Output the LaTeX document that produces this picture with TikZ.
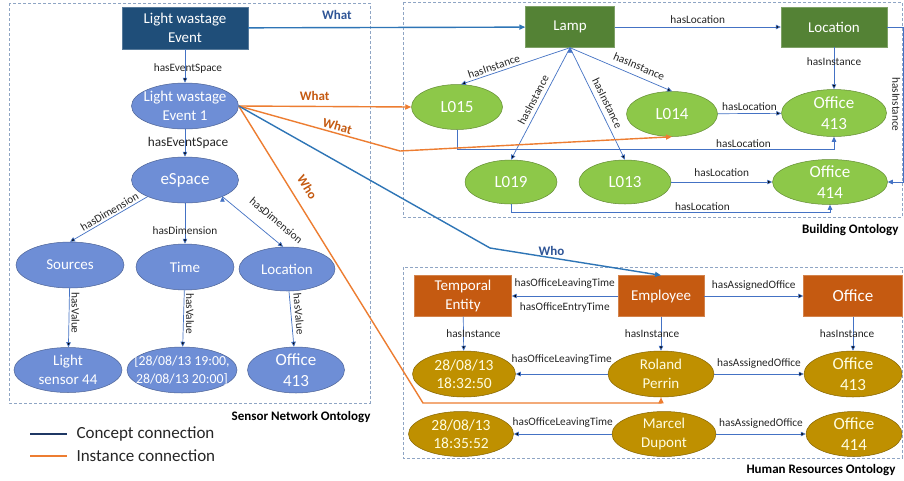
\documentclass[tikz,border=0pt]{standalone}
\usepackage{fontspec}
\setmainfont{Carlito}
\usetikzlibrary{arrows.meta}
\usetikzlibrary{shapes.geometric}
\usetikzlibrary{backgrounds}

\definecolor{evblue}{HTML}{1F4E79}
\definecolor{snblue}{HTML}{6E8ED6}
\definecolor{lampgreen}{HTML}{548235}
\definecolor{instgreen}{HTML}{8DC849}
\definecolor{hrorange}{HTML}{C55A11}
\definecolor{hrgold}{HTML}{BF9000}
\definecolor{edgeblue}{HTML}{4472C4}
\definecolor{whatblue}{HTML}{2E75B6}
\definecolor{whatorange}{HTML}{ED7D31}
\definecolor{navy}{HTML}{2F5597}
\definecolor{legnavy}{HTML}{1F3864}
\definecolor{boxgray}{HTML}{8FA5C4}

\begin{document}
\begin{tikzpicture}[x=1pt,y=-1pt,
  every node/.style={font=\fontsize{11.3}{13}\selectfont,text=black!85},
  cls/.style={rectangle,fill=#1,draw=#1!75!white,text=white,align=center,inner sep=0pt,font=\fontsize{15}{18.5}\selectfont},
  ins/.style={ellipse,fill=#1,draw=#1!70!black,line width=0.5pt,text=white,align=center,inner sep=-20pt,font=\fontsize{15}{19}\selectfont},
  big/.style={font=\fontsize{17}{21}\selectfont},
  rel/.style={draw=edgeblue,line width=0.7pt,-{Triangle[length=5pt,width=4.5pt]}},
  lbl/.style={inner sep=1pt},
  what/.style={line width=1.4pt,-{Triangle[length=6pt,width=5pt]}},
  whatlbl/.style={inner sep=1pt,font=\fontsize{13}{15}\selectfont\bfseries},
  onto/.style={draw=boxgray,dash pattern=on 3pt off 2pt,line width=0.6pt},
  ontolbl/.style={anchor=east,font=\fontsize{13}{15}\selectfont\bfseries,text=black}]

\fill[white] (0,0) rectangle (904,480);
\useasboundingbox (0,0) rectangle (904,480);

% ontology frames
\draw[onto] (9,3) rectangle (370,403);
\draw[onto] (403,2) rectangle (902,217);
\draw[onto] (403,267) rectangle (902,458);
\node[ontolbl] (snlbl) at (374,417) {Sensor Network Ontology};
\node[ontolbl] (bolbl) at (902,230) {Building Ontology};
\node[ontolbl] (hrlbl) at (899,470) {Human Resources Ontology};

% sensor network ontology
\node[cls=evblue,minimum width=126pt,minimum height=42pt] (ev) at (185,28) {Light wastage\\Event};
\node[ins=snblue,minimum width=107pt,minimum height=46pt] (ev1) at (185,106) {Light wastage\\Event 1};
\node[ins=snblue,big,minimum width=107pt,minimum height=46pt] (esp) at (185,180) {eSpace};
\node[ins=snblue,minimum width=108pt,minimum height=46pt] (src) at (70,265) {Sources};
\node[ins=snblue,minimum width=98pt,minimum height=46pt] (tim) at (185,267) {Time};
\node[ins=snblue,minimum width=96pt,minimum height=44pt] (loc) at (287,269) {Location};
\node[ins=snblue,minimum width=108pt,minimum height=45pt] (sen) at (68,370) {Light\\sensor 44};
\node[ins=snblue,font=\fontsize{13.8}{18}\selectfont,minimum width=110pt,minimum height=46pt] (per) at (182,370) {[28/08/13 19:00,\\28/08/13 20:00]};
\node[ins=snblue,big,minimum width=97pt,minimum height=46pt] (so413) at (296,370) {Office\\413};

\path[rel] (ev) edge node[lbl,xshift=3pt,pos=0.58] {hasEventSpace} (ev1)
           (ev1) edge node[lbl,xshift=3pt,font=\fontsize{13.3}{15}\selectfont] {hasEventSpace} (esp)
           (esp.204) edge node[lbl,sloped,anchor=south,outer ysep=1.2pt,pos=0.45] {hasDimension} (src.north)
           (esp) edge node[lbl,pos=0.68] {hasDimension} (tim)
           (esp.336) edge node[lbl,sloped,anchor=south,outer ysep=11pt,pos=0.72] {hasDimension} (loc.100)
           (src) edge node[lbl,rotate=-90,anchor=south,outer ysep=1.5pt,pos=0.42] {hasValue} (sen)
           (tim) edge node[lbl,rotate=-90,anchor=south,outer ysep=1.5pt,pos=0.42] {hasValue} (per)
           (loc) edge node[lbl,sloped,anchor=south,outer ysep=3pt,pos=0.42] {hasValue} (so413);

% building ontology
\node[cls=lampgreen,minimum width=89pt,minimum height=41pt] (lamp) at (570,27) {Lamp};
\node[cls=lampgreen,minimum width=106pt,minimum height=40pt] (locc) at (834,27) {Location};
\node[ins=instgreen,big,minimum width=91pt,minimum height=45pt] (l015) at (457,107) {L015};
\node[ins=instgreen,big,minimum width=91pt,minimum height=45pt] (l014) at (672,114) {L014};
\node[ins=instgreen,big,minimum width=105pt,minimum height=47pt] (bo413) at (834,113) {Office\\413};
\node[ins=instgreen,big,minimum width=92pt,minimum height=44pt] (l019) at (511,182) {L019};
\node[ins=instgreen,big,minimum width=92pt,minimum height=44pt] (l013) at (625,182) {L013};
\node[ins=instgreen,big,minimum width=115pt,minimum height=45pt] (bo414) at (830,182) {Office\\414};

\path[rel] (lamp) edge node[lbl,above=2pt] {hasLocation} (locc)
           (lamp.south) edge node[lbl,sloped,anchor=south,outer ysep=1.4pt,pos=0.68] {hasInstance} (l015.80)
           (lamp.south) edge node[lbl,sloped,anchor=south,outer ysep=3.2pt,pos=0.5] {hasInstance} (l019.north)
           (lamp.south) edge node[lbl,sloped,anchor=south,outer ysep=4.2pt,pos=0.53] {hasInstance} (l013.north)
           (lamp.south) edge node[lbl,sloped,anchor=south,outer ysep=5pt,pos=0.64] {hasInstance} (l014.north)
           (l014) edge node[lbl,above=2pt] {hasLocation} (bo413)
           (l013) edge node[lbl,above=4pt] {hasLocation} (bo414)
           (locc) edge node[lbl,pos=0.35] {hasInstance} (bo413);
\draw[rel] (l015.south) -- ++(0,20) -| node[lbl,above=1pt,pos=0.38] {hasLocation} (bo413.south);
\draw[rel] (l019.south) -- ++(0,8) -| node[lbl,above=0pt,pos=0.3] {hasLocation} (bo414.south);
\draw[rel] (locc.east) -- ++(16,0) |- node[lbl,rotate=-90,anchor=north,outer ysep=2pt,pos=0.25] {hasInstance} (bo414.east);

% human resources ontology
\node[cls=hrorange,minimum width=97pt,minimum height=41pt] (temp) at (463,296) {Temporal\\Entity};
\node[cls=hrorange,minimum width=86pt,minimum height=41pt] (emp) at (661,296) {Employee};
\node[cls=hrorange,big,minimum width=99pt,minimum height=41pt] (off) at (853,296) {Office};
\node[ins=hrgold,text=white!88!yellow,font=\fontsize{15.5}{18.5}\selectfont,minimum width=103pt,minimum height=46pt] (t1) at (464,374) {28/08/13\\18:32:50};
\node[ins=hrgold,text=white!88!yellow,minimum width=106pt,minimum height=46pt] (rp) at (661,374) {Roland\\Perrin};
\node[ins=hrgold,text=white!88!yellow,big,minimum width=98pt,minimum height=46pt] (ho413) at (853,374) {Office\\413};
\node[ins=hrgold,text=white!88!yellow,font=\fontsize{15.5}{18.5}\selectfont,minimum width=105pt,minimum height=45pt] (t2) at (461,434) {28/08/13\\18:35:52};
\node[ins=hrgold,text=white!88!yellow,minimum width=104pt,minimum height=45pt] (md) at (664,434) {Marcel\\Dupont};
\node[ins=hrgold,text=white!88!yellow,big,minimum width=96pt,minimum height=45pt] (ho414) at (854,434) {Office\\414};

\path[rel] (emp) edge node[lbl,above=6pt] {hasOfficeLeavingTime} node[lbl,below=5pt] {hasOfficeEntryTime} (temp)
           (emp) edge node[lbl,above=4pt] {hasAssignedOffice} (off)
           (temp) edge node[lbl,xshift=10pt] {hasInstance} (t1)
           (emp) edge node[lbl,xshift=-9pt] {hasInstance} (rp)
           (off) edge node[lbl,xshift=-6pt] {hasInstance} (ho413)
           (rp) edge node[lbl,above=8pt] {hasOfficeLeavingTime} (t1)
           (rp) edge node[lbl,above=4pt] {hasAssignedOffice} (ho413)
           (md) edge node[lbl,above=5pt] {hasOfficeLeavingTime} (t2)
           (md) edge node[lbl,above=4pt] {hasAssignedOffice} (ho414);
\begin{pgfonlayer}{background}
\path[rel] (temp.south) edge (t2.155)
           (emp.south) edge (md.155)
           (off.south) edge (ho414.152);
\end{pgfonlayer}

% links between the ontologies
\coordinate (whatbend) at (400,151);
\coordinate (whobend) at (490,248);
\coordinate (whocorner) at (423,403);
\draw[what,whatblue] (ev) -- node[whatlbl,text=navy,above=6.5pt,pos=0.32] {What} (lamp);
\draw[what,whatorange] (ev1.east) -- node[whatlbl,text=hrorange,above=4.5pt,pos=0.44] {What} (l015.west);
\draw[what,whatorange] (ev1.east) -- node[whatlbl,text=hrorange,sloped,anchor=south,outer ysep=1.5pt,pos=0.6] {What} (whatbend) -- (l014.south);
\draw[what,whatorange] (ev1.east) -- node[whatlbl,text=hrorange,sloped,anchor=south,outer ysep=10pt,pos=0.3] {Who} (whocorner) -| (rp.south);
\draw[what,whatblue] (ev1.east) -- (whobend) -- node[whatlbl,text=navy,above=0.5pt,pos=0.36] {Who} (emp.north);

% legend
\coordinate (legA1) at (30,434);
\coordinate (legA2) at (67,434);
\coordinate (legB1) at (30,456);
\coordinate (legB2) at (67,456);
\draw[legnavy,line width=1.4pt] (legA1) -- (legA2);
\draw[whatorange,line width=1.4pt] (legB1) -- (legB2);
\node[anchor=west,font=\fontsize{17}{19}\selectfont] (legA) at (73,434) {Concept connection};
\node[anchor=west,font=\fontsize{17}{19}\selectfont] (legB) at (73,456) {Instance connection};

\end{tikzpicture}
\end{document}
